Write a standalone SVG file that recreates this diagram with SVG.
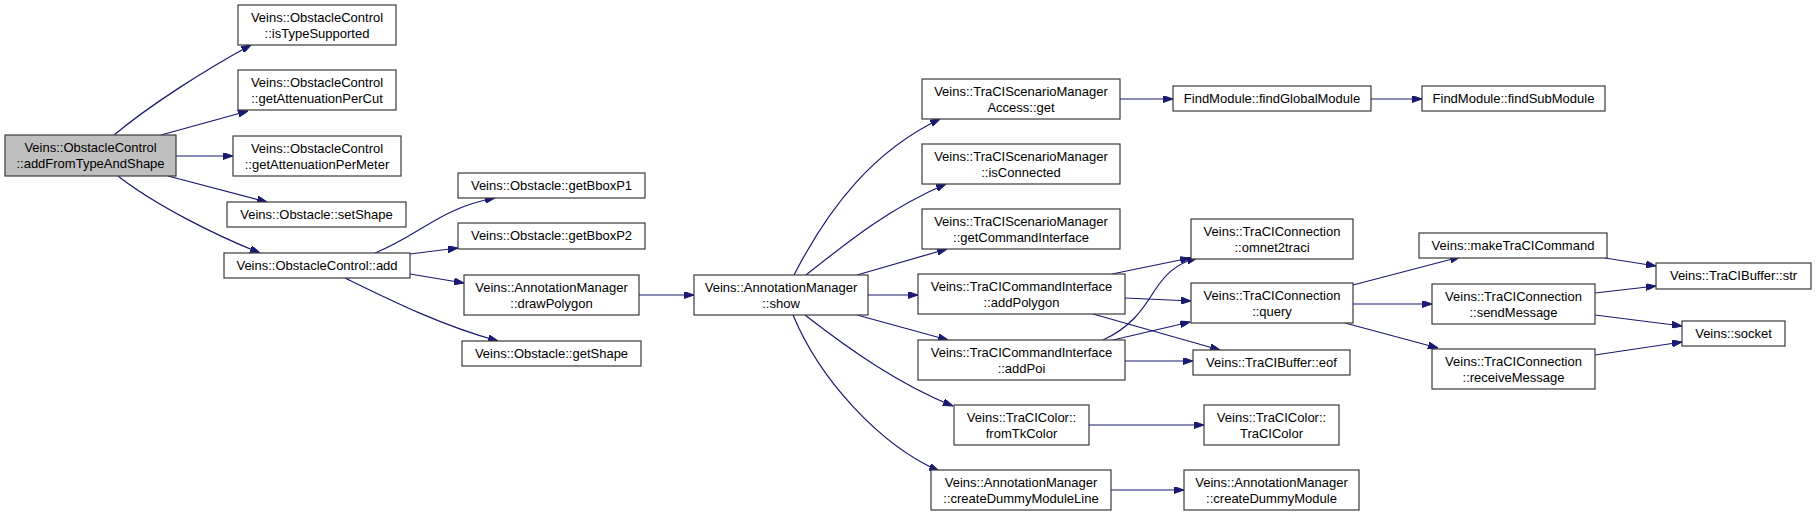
<svg xmlns="http://www.w3.org/2000/svg" width="1816" height="516" viewBox="0 0 1816 516">
<style>
.n rect{fill:#ffffff;stroke:#3a3a3a;stroke-width:1.2}
.n.g rect{fill:#bfbfbf}
.n text{font-family:"Liberation Sans",Arial,sans-serif;font-size:13px;fill:#000;text-anchor:middle}
#edges path{fill:none;stroke:#191970;stroke-width:1.2;marker-end:url(#ah)}
</style>
<defs>
<marker id="ah" viewBox="0 0 10 7" refX="10" refY="3.5" markerWidth="10" markerHeight="7" markerUnits="userSpaceOnUse" orient="auto">
<path d="M0,0 L10,3.5 L0,7 z" fill="#191970" stroke="#191970" stroke-width="1"/>
</marker>
</defs>
<rect width="1816" height="516" fill="#ffffff"/>
<g id="edges">
<path d="M114,135 C150,105 205,70 251,45"/>
<path d="M161,135 L248,111"/>
<path d="M176,156 L233,156"/>
<path d="M168,176 L267,202"/>
<path d="M118,176 C155,205 215,235 260,253"/>
<path d="M375,253 C420,235 440,208 495,198"/>
<path d="M410,254 L458,248"/>
<path d="M410,274 L464,283"/>
<path d="M345,278 C390,300 440,325 498,341"/>
<path d="M639,295 L694,295"/>
<path d="M794,275 C830,205 875,150 940,119"/>
<path d="M806,275 C850,240 890,208 946,184"/>
<path d="M857,275 L947,249"/>
<path d="M868,295 L918,295"/>
<path d="M857,315 L948,340"/>
<path d="M805,315 C850,350 900,385 953,406"/>
<path d="M793,315 C820,380 880,445 939,471"/>
<path d="M1120,99 L1173,99"/>
<path d="M1371,99 L1422,99"/>
<path d="M1112,274 L1190,258"/>
<path d="M1125,298 L1191,301"/>
<path d="M1093,314 L1220,350"/>
<path d="M1103,340 C1135,325 1145,305 1155,290 C1165,275 1175,264 1197,258"/>
<path d="M1113,340 L1190,322"/>
<path d="M1125,361 L1193,361"/>
<path d="M1089,425 L1204,425"/>
<path d="M1111,490 L1184,490"/>
<path d="M1353,285 L1460,257"/>
<path d="M1353,304 L1432,304"/>
<path d="M1345,323 L1438,348"/>
<path d="M1605,258 L1656,266"/>
<path d="M1595,293 L1656,286"/>
<path d="M1595,315 L1682,326"/>
<path d="M1595,355 L1682,342"/>
</g>
<g id="n_addFromTypeAndShape" class="n g"><rect x="5" y="135" width="171" height="41"/><text x="90.5" y="151.5">Veins::ObstacleControl</text><text x="90.5" y="167.5">::addFromTypeAndShape</text></g>
<g id="n_isTypeSupported" class="n"><rect x="238" y="5" width="158" height="40"/><text x="317" y="21.5">Veins::ObstacleControl</text><text x="317" y="37.5">::isTypeSupported</text></g>
<g id="n_getAttenuationPerCut" class="n"><rect x="238" y="70" width="158" height="40"/><text x="317" y="86.5">Veins::ObstacleControl</text><text x="317" y="102.5">::getAttenuationPerCut</text></g>
<g id="n_getAttenuationPerMeter" class="n"><rect x="233" y="136" width="168" height="40"/><text x="317" y="152.5">Veins::ObstacleControl</text><text x="317" y="168.5">::getAttenuationPerMeter</text></g>
<g id="n_setShape" class="n"><rect x="227" y="202" width="179" height="25"/><text x="316.5" y="218.5">Veins::Obstacle::setShape</text></g>
<g id="n_add" class="n"><rect x="224" y="253" width="186" height="25"/><text x="317" y="269.5">Veins::ObstacleControl::add</text></g>
<g id="n_getBboxP1" class="n"><rect x="458" y="173" width="187" height="25"/><text x="551.5" y="189.5">Veins::Obstacle::getBboxP1</text></g>
<g id="n_getBboxP2" class="n"><rect x="458" y="223" width="187" height="26"/><text x="551.5" y="240">Veins::Obstacle::getBboxP2</text></g>
<g id="n_drawPolygon" class="n"><rect x="464" y="275" width="175" height="40"/><text x="551.5" y="291.5">Veins::AnnotationManager</text><text x="551.5" y="307.5">::drawPolygon</text></g>
<g id="n_getShape" class="n"><rect x="462" y="341" width="179" height="25"/><text x="551.5" y="357.5">Veins::Obstacle::getShape</text></g>
<g id="n_show" class="n"><rect x="694" y="275" width="174" height="40"/><text x="781" y="291.5">Veins::AnnotationManager</text><text x="781" y="307.5">::show</text></g>
<g id="n_scenarioGet" class="n"><rect x="922" y="79" width="198" height="40"/><text x="1021" y="95.5">Veins::TraCIScenarioManager</text><text x="1021" y="111.5">Access::get</text></g>
<g id="n_isConnected" class="n"><rect x="922" y="144" width="198" height="40"/><text x="1021" y="160.5">Veins::TraCIScenarioManager</text><text x="1021" y="176.5">::isConnected</text></g>
<g id="n_getCommandInterface" class="n"><rect x="922" y="209" width="198" height="40"/><text x="1021" y="225.5">Veins::TraCIScenarioManager</text><text x="1021" y="241.5">::getCommandInterface</text></g>
<g id="n_addPolygon" class="n"><rect x="918" y="274" width="207" height="40"/><text x="1021.5" y="290.5">Veins::TraCICommandInterface</text><text x="1021.5" y="306.5">::addPolygon</text></g>
<g id="n_addPoi" class="n"><rect x="918" y="340" width="207" height="40"/><text x="1021.5" y="356.5">Veins::TraCICommandInterface</text><text x="1021.5" y="372.5">::addPoi</text></g>
<g id="n_fromTkColor" class="n"><rect x="954" y="405" width="135" height="40"/><text x="1021.5" y="421.5">Veins::TraCIColor::</text><text x="1021.5" y="437.5">fromTkColor</text></g>
<g id="n_createDummyModuleLine" class="n"><rect x="931" y="470" width="180" height="40"/><text x="1021" y="486.5">Veins::AnnotationManager</text><text x="1021" y="502.5">::createDummyModuleLine</text></g>
<g id="n_findGlobalModule" class="n"><rect x="1173" y="86" width="198" height="25"/><text x="1272" y="102.5">FindModule::findGlobalModule</text></g>
<g id="n_omnet2traci" class="n"><rect x="1191" y="219" width="162" height="40"/><text x="1272" y="235.5">Veins::TraCIConnection</text><text x="1272" y="251.5">::omnet2traci</text></g>
<g id="n_query" class="n"><rect x="1191" y="283" width="162" height="40"/><text x="1272" y="299.5">Veins::TraCIConnection</text><text x="1272" y="315.5">::query</text></g>
<g id="n_eof" class="n"><rect x="1193" y="350" width="157" height="25"/><text x="1271.5" y="366.5">Veins::TraCIBuffer::eof</text></g>
<g id="n_TraCIColor" class="n"><rect x="1204" y="405" width="135" height="40"/><text x="1271.5" y="421.5">Veins::TraCIColor::</text><text x="1271.5" y="437.5">TraCIColor</text></g>
<g id="n_createDummyModule" class="n"><rect x="1184" y="470" width="175" height="40"/><text x="1271.5" y="486.5">Veins::AnnotationManager</text><text x="1271.5" y="502.5">::createDummyModule</text></g>
<g id="n_findSubModule" class="n"><rect x="1422" y="86" width="183" height="25"/><text x="1513.5" y="102.5">FindModule::findSubModule</text></g>
<g id="n_makeTraCICommand" class="n"><rect x="1419" y="233" width="188" height="25"/><text x="1513" y="249.5">Veins::makeTraCICommand</text></g>
<g id="n_sendMessage" class="n"><rect x="1432" y="284" width="163" height="40"/><text x="1513.5" y="300.5">Veins::TraCIConnection</text><text x="1513.5" y="316.5">::sendMessage</text></g>
<g id="n_receiveMessage" class="n"><rect x="1432" y="349" width="163" height="40"/><text x="1513.5" y="365.5">Veins::TraCIConnection</text><text x="1513.5" y="381.5">::receiveMessage</text></g>
<g id="n_str" class="n"><rect x="1656" y="263" width="155" height="26"/><text x="1733.5" y="280">Veins::TraCIBuffer::str</text></g>
<g id="n_socket" class="n"><rect x="1682" y="321" width="103" height="25"/><text x="1733.5" y="337.5">Veins::socket</text></g>
</svg>
